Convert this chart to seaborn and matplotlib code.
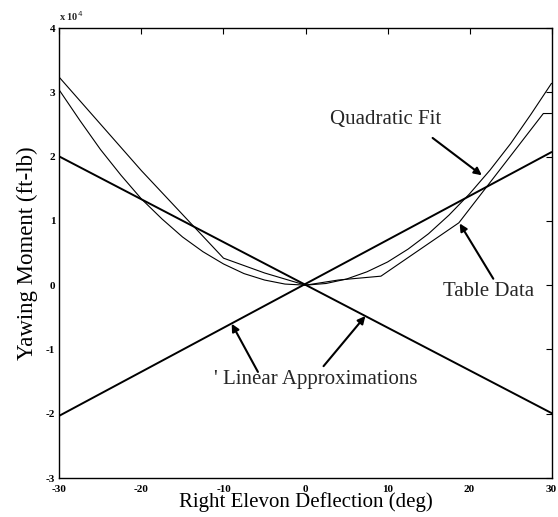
import matplotlib
matplotlib.use("Agg")
import matplotlib.pyplot as plt
import seaborn as sns
import pandas as pd

# ---- data ----
quad_x = [-30, -27.5, -25, -22.5, -20, -17.5, -15, -12.5, -10, -7.5, -5, -2.5, 0,
          2.5, 5, 7.5, 10, 12.5, 15, 17.5, 20, 22.5, 25, 27.5, 30]
quad_y = [30300, 25600, 21100, 17100, 13400, 10300, 7500, 5200, 3300, 1800, 800, 170, 0,
          260, 950, 2080, 3600, 5600, 8000, 10900, 14200, 17900, 22000, 26600, 31400]

table_x = [-30, -20, -10, -5, 0, 4, 9.2, 18.7, 29, 30]
table_y = [32300, 17800, 4200, 1900, 0, 800, 1400, 9700, 26700, 26700]

lin_up_x = [-30, 30]
lin_up_y = [-20300, 20700]
lin_dn_x = [-30, 30]
lin_dn_y = [20000, -19900]

x_ticks = [-30, -20, -10, 0, 10, 20, 30]
y_ticks = [-30000, -20000, -10000, 0, 10000, 20000, 30000, 40000]
y_tick_labels = ["-3", "-2", "-1", "0", "1", "2", "3", "4"]

sns.set_theme(style="white")
plt.rcParams["font.family"] = ["Liberation Serif", "DejaVu Serif"]

fig = plt.figure(figsize=(5.58, 5.17), dpi=100)
ax = fig.add_axes([0.1066, 0.0754, 0.8818, 0.8704])

quad_df = pd.DataFrame({"x": quad_x, "y": quad_y})
table_df = pd.DataFrame({"x": table_x, "y": table_y})
up_df = pd.DataFrame({"x": lin_up_x, "y": lin_up_y})
dn_df = pd.DataFrame({"x": lin_dn_x, "y": lin_dn_y})

sns.lineplot(data=quad_df, x="x", y="y", ax=ax, color="black", lw=0.8, sort=False)
sns.lineplot(data=table_df, x="x", y="y", ax=ax, color="black", lw=0.8, sort=False)
sns.lineplot(data=up_df, x="x", y="y", ax=ax, color="black", lw=1.4, sort=False)
sns.lineplot(data=dn_df, x="x", y="y", ax=ax, color="black", lw=1.4, sort=False)

ax.set_xlim(-30, 30)
ax.set_ylim(-30000, 40000)
ax.set_xticks(x_ticks)
ax.set_xticklabels([str(t) for t in x_ticks])
ax.set_yticks(y_ticks)
ax.set_yticklabels(y_tick_labels)
for lab in ax.get_xticklabels() + ax.get_yticklabels():
    lab.set_fontweight("bold")
    lab.set_fontsize(8)
ax.tick_params(direction="in", top=True, right=True, length=4, width=0.8,
               colors="black")
ax.tick_params(axis="x", pad=5)
ax.tick_params(axis="y", pad=3)
for s in ax.spines.values():
    s.set_visible(True)
    s.set_color("black")
    s.set_linewidth(1.0)

ax.set_xlabel("Right Elevon Deflection (deg)", fontsize=15, labelpad=-1, color="black")
ax.set_ylabel("Yawing Moment (ft-lb)", fontsize=16.5, labelpad=6, color="black")

ax.text(0.0, 1.012, r"x 10$^{4}$", transform=ax.transAxes, fontsize=7.5,
        fontweight="bold", ha="left", va="bottom")

# annotations
arrow = dict(arrowstyle="-|>", color="black", lw=1.5, mutation_scale=11,
             shrinkA=0, shrinkB=0)
ax.text(9.8, 25800, "Quadratic Fit", fontsize=15, ha="center", va="center")
ax.annotate("", xy=(21.5, 17100), xytext=(15.5, 22900), arrowprops=arrow)

ax.text(22.3, -1000, "Table Data", fontsize=15, ha="center", va="center")
ax.annotate("", xy=(18.8, 9600), xytext=(22.9, 1000), arrowprops=arrow)

ax.text(1.2, -14600, "' Linear Approximations", fontsize=15, ha="center", va="center")
ax.annotate("", xy=(-9.0, -6000), xytext=(-5.8, -13500), arrowprops=arrow)
ax.annotate("", xy=(7.3, -4800), xytext=(2.2, -12600), arrowprops=arrow)

fig.savefig("out.png", dpi=100, facecolor="white")
